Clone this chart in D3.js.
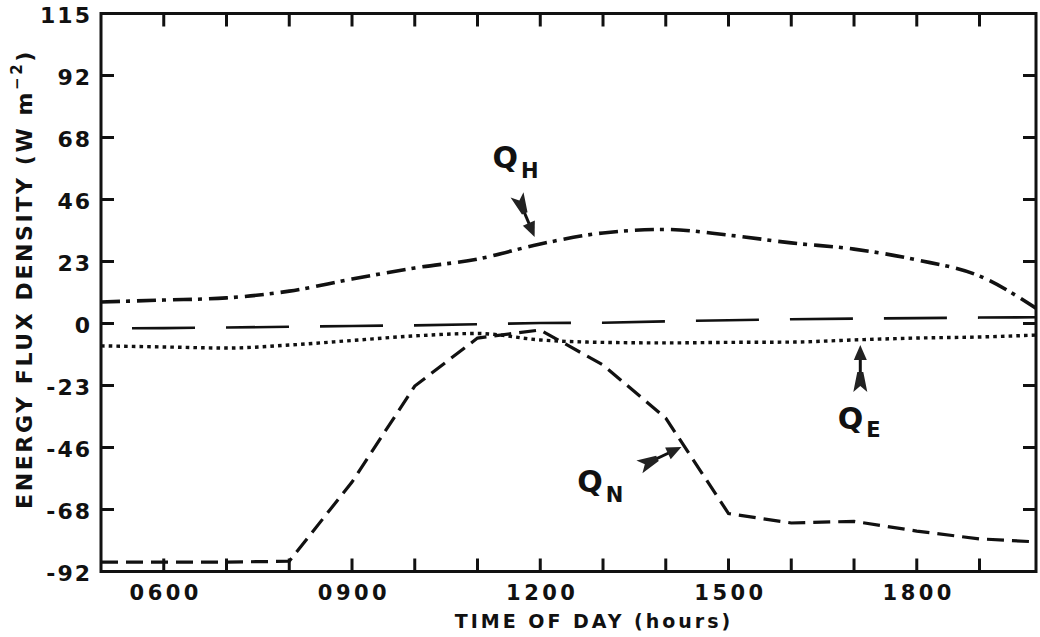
<!DOCTYPE html>
<meta charset="utf-8">
<style>
body { margin: 0; background: #fff; }
svg text { font-family: "DejaVu Sans", sans-serif; font-weight: bold; fill: #111; }
</style>
<body>
<svg width="1040" height="637"></svg>
<script src="https://d3js.org/d3.v7.min.js"></script>
<script>
// hours of day (decimal) and fluxes in W m-2
const hours = [5, 6, 7, 8, 9, 10, 11, 12, 13, 14, 15, 16, 17, 18, 19, 19.9];
const qH = [8.0, 8.7, 9.5, 12.0, 16.5, 20.6, 23.9, 29.5, 33.6, 34.9, 32.8, 29.9, 27.6, 23.6, 17.6, 5.7];
const qE = [-8.3, -8.7, -9.1, -8.0, -6.3, -4.6, -3.7, -6.1, -7.0, -7.2, -7.0, -6.9, -6.1, -5.4, -5.0, -4.3];
const qN = [-88.5, -88.5, -88.5, -88.2, -58.8, -23.2, -5.4, -2.4, -15.4, -35.1, -70.5, -74.0, -73.4, -77.0, -79.9, -81.0];
const qG = [-1.8, -1.7, -1.5, -1.2, -0.9, -0.7, -0.3, 0.2, 0.3, 0.8, 1.2, 1.6, 1.8, 2.0, 2.2, 2.3];

const yTicks = [115, 92, 69, 46, 23, 0, -23, -46, -69, -92];
const yTickLabels = ["115", "92", "68", "46", "23", "0", "-23", "-46", "-68", "-92"];
const xTicks = [6, 7, 8, 9, 10, 11, 12, 13, 14, 15, 16, 17, 18, 19];
const xLabelHours = [6, 9, 12, 15, 18];
const xLabelText = ["0600", "0900", "1200", "1500", "1800"];

const svg = d3.select("svg");
const pL = 101, pR = 1036, pT = 13.5, pB = 571.5;

const x = d3.scaleLinear().domain([5, 19.9]).range([pL, pR]);
const y = d3.scaleLinear().domain([-92, 115]).range([pB, pT]);

svg.append("clipPath").attr("id", "plot")
  .append("rect").attr("x", pL).attr("y", pT)
  .attr("width", pR - pL).attr("height", pB - pT);

const g = svg.append("g").attr("clip-path", "url(#plot)");

function drawLine(vals, dash, width, curve, offset) {
  const line = d3.line()
    .x((d, i) => x(hours[i]))
    .y(d => y(d))
    .curve(curve);
  g.append("path")
    .datum(vals)
    .attr("d", line)
    .attr("fill", "none")
    .attr("stroke", "#111")
    .attr("stroke-width", width)
    .attr("stroke-dasharray", dash)
    .attr("stroke-dashoffset", offset || 0);
}

drawLine(qG, "63,31", 2.6, d3.curveLinear, 63);
drawLine(qE, "3.6,4.1", 3.4, d3.curveMonotoneX);
drawLine(qH, "19,6,4,7", 3.6, d3.curveMonotoneX);
drawLine(qN, "17,8", 3.2, d3.curveLinear);

// frame and ticks
const axisG = svg.append("g").attr("stroke", "#111").attr("stroke-width", 3);
axisG.append("rect")
  .attr("x", pL).attr("y", pT)
  .attr("width", pR - pL).attr("height", pB - pT)
  .attr("fill", "none");

const tickLen = 13;
axisG.selectAll(".xt").data(xTicks).enter().append("line")
  .attr("x1", d => x(d)).attr("x2", d => x(d))
  .attr("y1", pB).attr("y2", pB - tickLen);
axisG.selectAll(".xtt").data(xTicks).enter().append("line")
  .attr("x1", d => x(d)).attr("x2", d => x(d))
  .attr("y1", pT).attr("y2", pT + tickLen);
axisG.selectAll(".yt").data(yTicks).enter().append("line")
  .attr("x1", pL).attr("x2", pL + tickLen)
  .attr("y1", d => y(d)).attr("y2", d => y(d));
axisG.selectAll(".ytr").data(yTicks).enter().append("line")
  .attr("x1", pR).attr("x2", pR - tickLen)
  .attr("y1", d => y(d)).attr("y2", d => y(d));

// tick labels
svg.selectAll(".ylab").data(yTicks).enter().append("text")
  .attr("x", pL - 9)
  .attr("y", d => y(d) + 2)
  .attr("dy", "0.36em")
  .attr("text-anchor", "end")
  .attr("font-size", 22)
  .attr("letter-spacing", 2)
  .text((d, i) => yTickLabels[i]);

svg.selectAll(".xlab").data(xLabelHours).enter().append("text")
  .attr("x", d => x(d) + 2)
  .attr("y", 600)
  .attr("text-anchor", "middle")
  .attr("font-size", 21)
  .attr("letter-spacing", 3.5)
  .text((d, i) => xLabelText[i]);

// axis titles
svg.append("text")
  .attr("x", 594).attr("y", 628)
  .attr("text-anchor", "middle")
  .attr("font-size", 19)
  .attr("letter-spacing", 3)
  .text("TIME OF DAY (hours)");

const yt = svg.append("text")
  .attr("transform", "translate(32,279) rotate(-90)")
  .attr("text-anchor", "middle")
  .attr("font-size", 22)
  .attr("letter-spacing", 2.6);
yt.append("tspan").text("ENERGY FLUX DENSITY (W m");
yt.append("tspan").attr("dy", -10).attr("font-size", 15).text("\u22122");
yt.append("tspan").attr("dy", 10).text(")");

// labels with arrows (positions in data units)
const notes = [
  { main: "Q", sub: "H", at: [11.24, 57.7], subDy: 10, tail: [11.63, 47.7], tip: [11.91, 32.1] },
  { main: "Q", sub: "E", at: [16.74, -39.1], subDy: 8, tail: [17.1, -25.4], tip: [17.1, -8.0] },
  { main: "Q", sub: "N", at: [12.59, -62.5], subDy: 10, tail: [13.58, -53.2], tip: [14.25, -45.8] }
];

notes.forEach(n => {
  const t = svg.append("text")
    .attr("x", x(n.at[0])).attr("y", y(n.at[1]))
    .attr("font-size", 30);
  t.append("tspan").text(n.main);
  t.append("tspan").attr("dx", 3).attr("dy", n.subDy).attr("font-size", 21).text(n.sub);

  const x0 = x(n.tail[0]), y0 = y(n.tail[1]);
  const x1 = x(n.tip[0]), y1 = y(n.tip[1]);
  const len = Math.hypot(x1 - x0, y1 - y0);
  const ang = Math.atan2(y1 - y0, x1 - x0) * 180 / Math.PI;
  const a = svg.append("g")
    .attr("transform", `translate(${x0},${y0}) rotate(${ang})`);
  a.append("line")
    .attr("x1", 8).attr("x2", len - 10)
    .attr("y1", 0).attr("y2", 0)
    .attr("stroke", "#111").attr("stroke-width", 3);
  a.append("path")
    .attr("d", `M${len},0 L${len - 15},-6.5 L${len - 15},6.5 Z`)
    .attr("fill", "#222");
  a.append("path")
    .attr("d", "M0,-7 L20,-3 L20,3 L0,7 L6,0 Z")
    .attr("fill", "#222");
});
</script>
</body>
